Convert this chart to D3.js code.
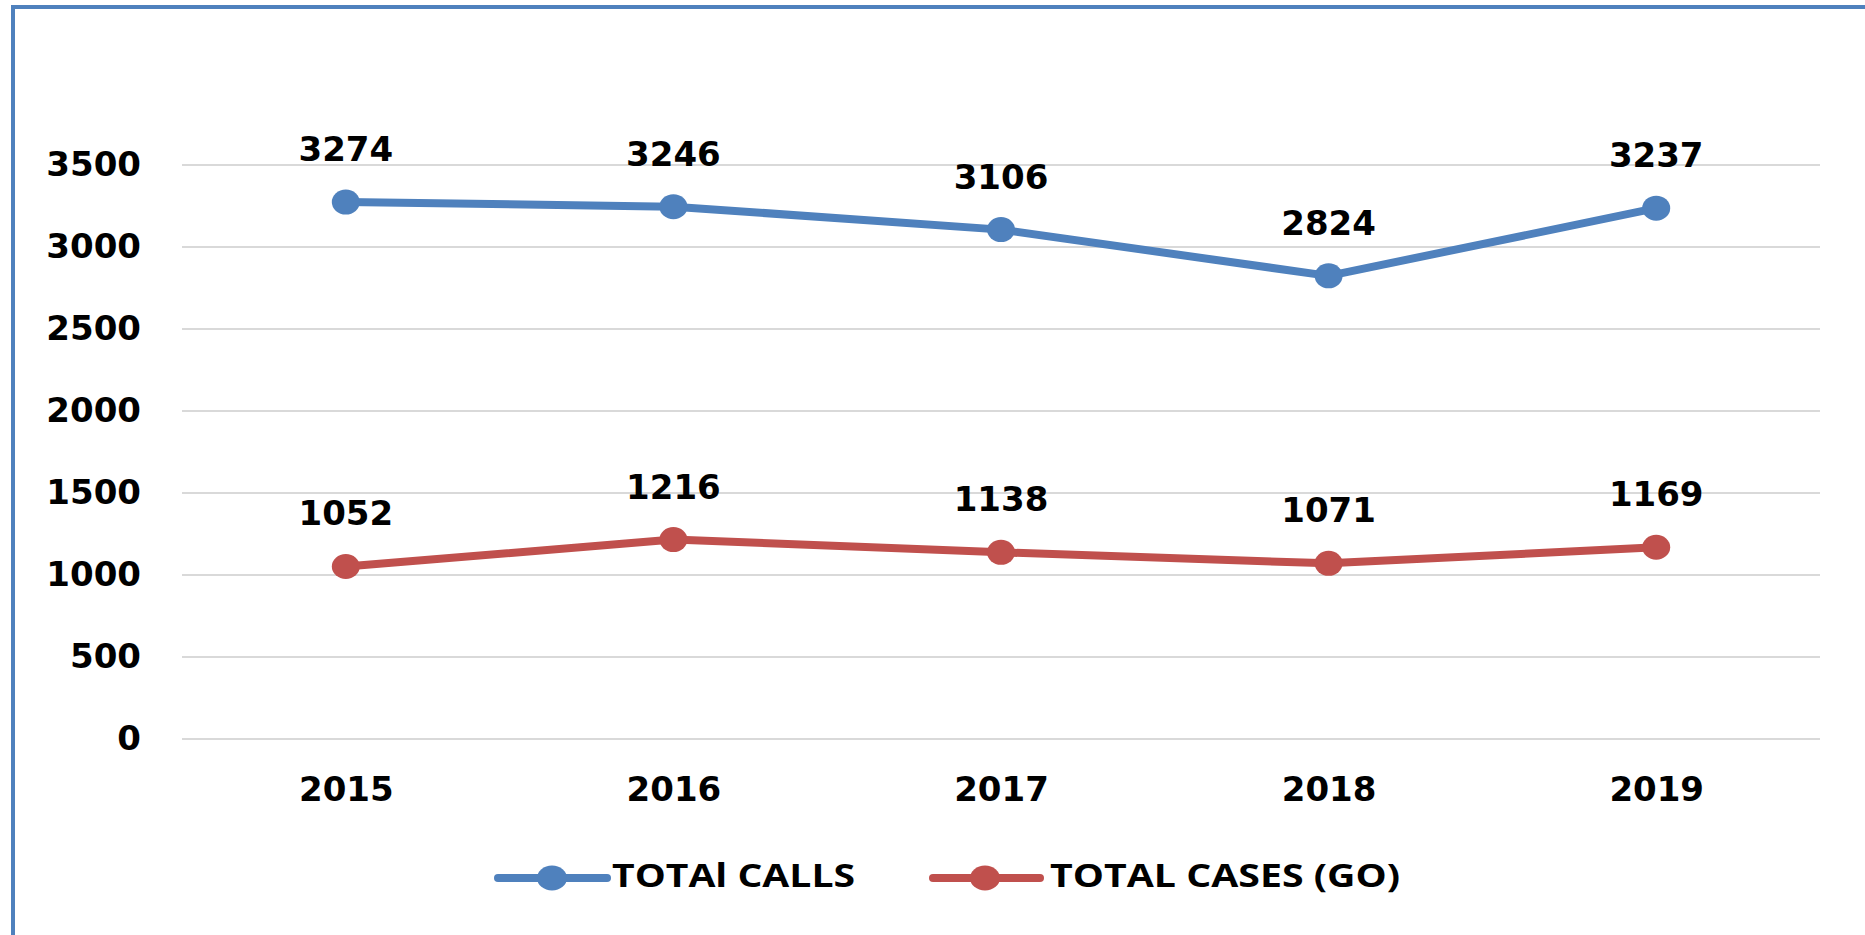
<!DOCTYPE html>
<html>
<head>
<meta charset="utf-8">
<script src="https://cdn.jsdelivr.net/npm/d3@7"></script>
<style>
  html, body { margin: 0; padding: 0; background: #fff; overflow: hidden; }
  svg { display: block; }
</style>
</head>
<body>
<div id="chart"></div>
<script>
// chart data
const years = ["2015", "2016", "2017", "2018", "2019"];
const totalCalls = [3274, 3246, 3106, 2824, 3237];
const totalCases = [1052, 1216, 1138, 1071, 1169];
const yTicks = [0, 500, 1000, 1500, 2000, 2500, 3000, 3500];
const seriesNames = ["TOTAl CALLS", "TOTAL CASES (GO)"];
const seriesColors = ["#4f81bd", "#c0504d"];

const W = 1865, H = 935;
const margin = { top: 165, right: 45, bottom: 196, left: 182 };
const width = W - margin.left - margin.right;
const height = H - margin.top - margin.bottom;

const svg = d3.select("#chart").append("svg")
    .attr("width", W)
    .attr("height", H);

// outer frame (runs off right and bottom edges like the screenshot)
svg.append("rect")
    .attr("x", 13).attr("y", 7)
    .attr("width", W + 20).attr("height", H + 20)
    .attr("fill", "none")
    .attr("stroke", "#4f81bd")
    .attr("stroke-width", 4);

const g = svg.append("g")
    .attr("transform", `translate(${margin.left},${margin.top})`);

const x = d3.scalePoint()
    .domain(years)
    .range([0, width])
    .padding(0.5);

const y = d3.scaleLinear()
    .domain([0, 3500])
    .range([height, 0]);

// gridlines
g.append("g")
    .selectAll("line")
    .data(yTicks)
    .join("line")
    .attr("x1", 0).attr("x2", width)
    .attr("y1", d => y(d)).attr("y2", d => y(d))
    .attr("stroke", "#d9d9d9")
    .attr("stroke-width", 2);

const numFont = "'DejaVu Sans', Verdana, sans-serif";

// y axis labels
const yAxis = g.append("g")
    .call(d3.axisLeft(y).tickValues(yTicks).tickFormat(d3.format("d")).tickSize(0).tickPadding(41));
yAxis.select(".domain").remove();
yAxis.selectAll("text")
    .attr("font-family", numFont)
    .attr("font-weight", "bold")
    .attr("font-size", "34px")
    .attr("fill", "#000");

// x axis labels
const xAxis = g.append("g")
    .attr("transform", `translate(0,${height})`)
    .call(d3.axisBottom(x).tickSize(0).tickPadding(38));
xAxis.select(".domain").remove();
xAxis.selectAll("text")
    .attr("font-family", numFont)
    .attr("font-weight", "bold")
    .attr("font-size", "34px")
    .attr("fill", "#000");

const series = [totalCalls, totalCases];
const line = d3.line()
    .x((d, i) => x(years[i]))
    .y(d => y(d));

series.forEach((vals, s) => {
    g.append("path")
        .datum(vals)
        .attr("d", line)
        .attr("fill", "none")
        .attr("stroke", seriesColors[s])
        .attr("stroke-width", 8)
        .attr("stroke-linejoin", "round")
        .attr("stroke-linecap", "round");

    g.append("g")
        .selectAll("ellipse")
        .data(vals)
        .join("ellipse")
        .attr("cx", (d, i) => x(years[i]))
        .attr("cy", d => y(d))
        .attr("rx", 14)
        .attr("ry", 12.5)
        .attr("fill", seriesColors[s]);

    g.append("g")
        .selectAll("text")
        .data(vals)
        .join("text")
        .attr("x", (d, i) => x(years[i]))
        .attr("y", d => y(d) - 41)
        .attr("text-anchor", "middle")
        .attr("font-family", numFont)
        .attr("font-weight", "bold")
        .attr("font-size", "34px")
        .attr("fill", "#000")
        .text(d => d);
});

// legend
const legendY = 878;
const legendItems = [
    { x0: 498, x1: 607, cx: 552, tx: 612, tw: 243 },
    { x0: 933, x1: 1040, cx: 985, tx: 1050, tw: 350 }
];
legendItems.forEach((it, s) => {
    const lg = svg.append("g");
    lg.append("line")
        .attr("x1", it.x0).attr("x2", it.x1)
        .attr("y1", legendY).attr("y2", legendY)
        .attr("stroke", seriesColors[s])
        .attr("stroke-width", 8)
        .attr("stroke-linecap", "round");
    lg.append("ellipse")
        .attr("cx", it.cx).attr("cy", legendY)
        .attr("rx", 15).attr("ry", 12.5)
        .attr("fill", seriesColors[s]);
    lg.append("text")
        .attr("x", it.tx)
        .attr("y", legendY + 9)
        .attr("font-family", "'Open Sans', 'Noto Sans', sans-serif")
        .attr("font-weight", "bold")
        .attr("font-size", "32px")
        .attr("textLength", it.tw)
        .attr("lengthAdjust", "spacingAndGlyphs")
        .attr("fill", "#000")
        .text(seriesNames[s]);
});
</script>
</body>
</html>
